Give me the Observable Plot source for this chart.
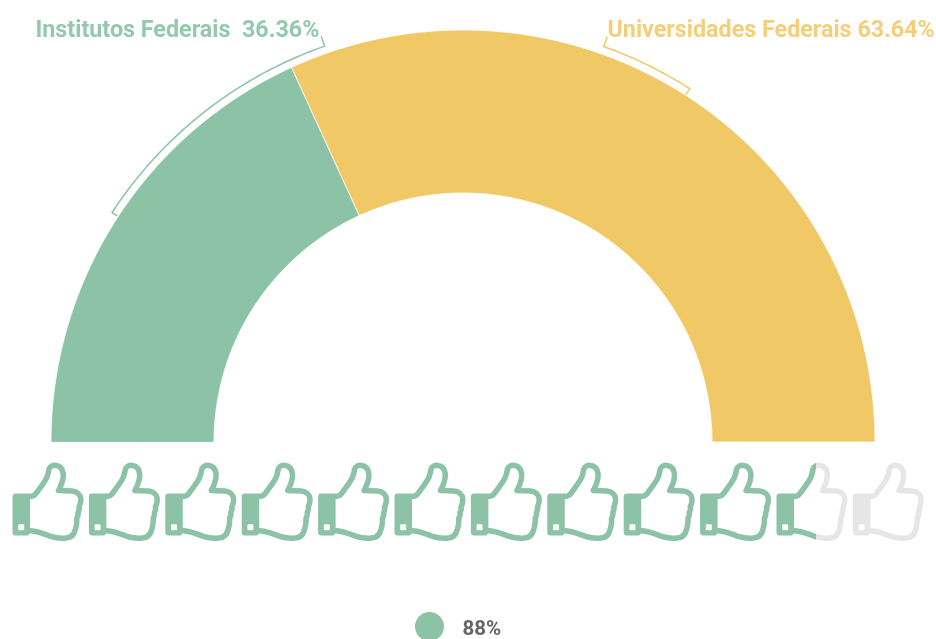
<!DOCTYPE html>
<html lang="pt">
<head>
<meta charset="utf-8">
<style>
  html, body { margin: 0; padding: 0; background: #fff; }
  svg { display: block; filter: blur(0.6px); }
</style>
<script src="https://cdn.jsdelivr.net/npm/d3@7"></script>
<script src="https://cdn.jsdelivr.net/npm/@observablehq/plot@0.6"></script>
</head>
<body>
<script>
// ---- data ----
const categories = ["Institutos Federais", "Universidades Federais"];
const shares = [36.36, 63.64];
const labels = ["Institutos Federais  36.36%", "Universidades Federais 63.64%"];
const colors = ["#8cc3a7", "#f0c966"];
const textColors = ["#93c9ae", "#f2cf78"];
const likePercent = 88;
const thumbCount = 12;
const grey = "#e6e6e6";

// ---- geometry helpers (px-identity scales below) ----
const W = 936, H = 639, cx = 463, cy = 442, rOuter = 412, rInner = 249;
const deg = Math.PI / 180;
const polar = (r, a) => [cx - r * Math.cos(a * deg), cy - r * Math.sin(a * deg)];
const shareToAngle = d3.scaleLinear([0, 100], [0, 180]);

let cum = 0;
const arcs = [];
categories.forEach((c, i) => {
  const a0 = shareToAngle(cum), a1 = shareToAngle(cum + shares[i]);
  cum += shares[i];
  const n = Math.ceil((a1 - a0) * 2);
  for (let k = 0; k <= n; k++) {
    const a = a0 + (a1 - a0) * k / n;
    const [xo, yo] = polar(rOuter, a), [xi, yi] = polar(rInner, a);
    arcs.push({category: c, xo, yo, xi, yi});
  }
});

// bracket: start angle, end angle, tick-end radius at start and at end
const brackets = [
  {category: categories[0], from: 33.2, to: 70.7, r0: 414.5, r1: 430},
  {category: categories[1], from: 109.5, to: 122.6, r0: 430, r1: 413}
];
const bracketPts = brackets.flatMap(b => {
  const pts = [{category: b.category, p: polar(b.r0, b.from)}];
  const n = Math.ceil(Math.abs(b.to - b.from) * 2);
  for (let k = 0; k <= n; k++) {
    pts.push({category: b.category, p: polar(420, b.from + (b.to - b.from) * k / n)});
  }
  pts.push({category: b.category, p: polar(b.r1, b.to)});
  return pts;
});

// ---- thumb icon as custom dot symbols ----
const handSymbol = {draw(c) {
  c.moveTo(-19, -5.5);
  c.bezierCurveTo(-15, -5.5, -13.5, -6.5, -12.5, -8);
  c.bezierCurveTo(-8, -14, -3, -20, -1, -25);
  c.bezierCurveTo(0.5, -28.5, 0.5, -31, 1, -33);
  c.bezierCurveTo(2, -36, 5, -37, 8, -36.5);
  c.bezierCurveTo(12, -36, 14.5, -33, 15.2, -28.5);
  c.bezierCurveTo(15.8, -23, 13.5, -17, 10.5, -11.5);
  c.lineTo(24, -11);
  c.bezierCurveTo(29, -10.5, 32.5, -7.5, 32.8, -3);
  c.bezierCurveTo(33, 1, 32, 3, 31, 5);
  c.bezierCurveTo(31.5, 7, 31, 9, 30, 10.5);
  c.bezierCurveTo(30.5, 13, 29.5, 15, 28.8, 16);
  c.bezierCurveTo(29, 20, 28.5, 24, 27.5, 27);
  c.bezierCurveTo(26, 33, 23, 36, 18, 36);
  c.bezierCurveTo(13, 36.5, 8, 36, 3, 34.5);
  c.bezierCurveTo(-3, 32.5, -10, 29, -19, 28.5);
}};
const cuffSymbol = {draw(c) {
  // outer body (clockwise) with a small hole (counter-clockwise)
  c.moveTo(-32.5, -8.5);
  c.lineTo(-18, -8.5);
  c.lineTo(-18, 31);
  c.lineTo(-20, 33.5);
  c.lineTo(-32.5, 33.5);
  c.quadraticCurveTo(-35.5, 33.5, -35.5, 30.5);
  c.lineTo(-35.5, -5.5);
  c.quadraticCurveTo(-35.5, -8.5, -32.5, -8.5);
  c.closePath();
  c.moveTo(-29.8, 23.2);
  c.lineTo(-29.8, 27.2);
  c.quadraticCurveTo(-29.8, 28.2, -28.8, 28.2);
  c.lineTo(-24.8, 28.2);
  c.quadraticCurveTo(-23.8, 28.2, -23.8, 27.2);
  c.lineTo(-23.8, 23.2);
  c.quadraticCurveTo(-23.8, 22.2, -24.8, 22.2);
  c.lineTo(-28.8, 22.2);
  c.quadraticCurveTo(-29.8, 22.2, -29.8, 23.2);
  c.closePath();
}};

const filled = likePercent / 100 * thumbCount;
const thumbs = d3.range(thumbCount).map(i => ({
  i, x: 47.5 + 76.4 * i, y: 501.5,
  kind: i + 1 <= filled ? "on" : i < filled ? "part" : "off"
}));
const thumbPaint = k => k === "on" ? colors[0] : k === "off" ? grey : "url(#thumbPart)";

function defs() {
  const d = d3.create("svg:defs");
  const off = (filled - Math.floor(filled)) * 100 + "%";
  const g = d.append("linearGradient").attr("id", "thumbPart")
    .attr("gradientUnits", "userSpaceOnUse")
    .attr("x1", -35.5).attr("x2", 35.5).attr("y1", 0).attr("y2", 0);
  g.append("stop").attr("offset", off).attr("stop-color", colors[0]);
  g.append("stop").attr("offset", off).attr("stop-color", grey);
  return d.node();
}

const thumbMarks = ["on", "part", "off"].flatMap(k => {
  const data = thumbs.filter(t => t.kind === k);
  const paint = thumbPaint(k);
  return [
    Plot.dot(data, {x: "x", y: "y", symbol: cuffSymbol, fill: paint, stroke: "none"}),
    Plot.dot(data, {x: "x", y: "y", symbol: handSymbol, fill: "none", stroke: paint, strokeWidth: 5.5, strokeLinejoin: "round", strokeLinecap: "butt"})
  ];
});

const chart = Plot.plot({
  width: W, height: H,
  margin: 0,
  x: {domain: [0, W], range: [0, W], axis: null},
  y: {domain: [0, H], range: [0, H], axis: null},
  color: {domain: categories, range: colors},
  style: {background: "#fff"},
  marks: [
    defs,
    Plot.area(arcs, {x1: "xo", y1: "yo", x2: "xi", y2: "yi", z: "category", fill: "category", stroke: "#fff", strokeWidth: 0.8}),
    ...categories.map((c, i) => Plot.line(bracketPts.filter(d => d.category === c), {
      x: d => d.p[0], y: d => d.p[1], stroke: colors[i], strokeWidth: 1.5, curve: "linear"
    })),
    Plot.text([labels[0]], {x: () => 35, y: () => 29, text: d => d, textAnchor: "start", fill: textColors[0],
      fontFamily: "Roboto", fontWeight: 700, fontSize: 23.3}),
    Plot.text([labels[1]], {x: () => 607, y: () => 29, text: d => d, textAnchor: "start", fill: textColors[1],
      fontFamily: "Roboto", fontWeight: 700, fontSize: 23.3}),
    ...thumbMarks,
    Plot.dot([likePercent], {x: () => 429, y: () => 626, r: 14.5, fill: colors[0], stroke: "none"}),
    Plot.text([likePercent], {x: () => 462, y: () => 628, text: d => d + "%", textAnchor: "start",
      fill: "#666666", fontFamily: "Roboto", fontWeight: 700, fontSize: 20.5})
  ]
});
document.body.appendChild(chart);
</script>
</body>
</html>
